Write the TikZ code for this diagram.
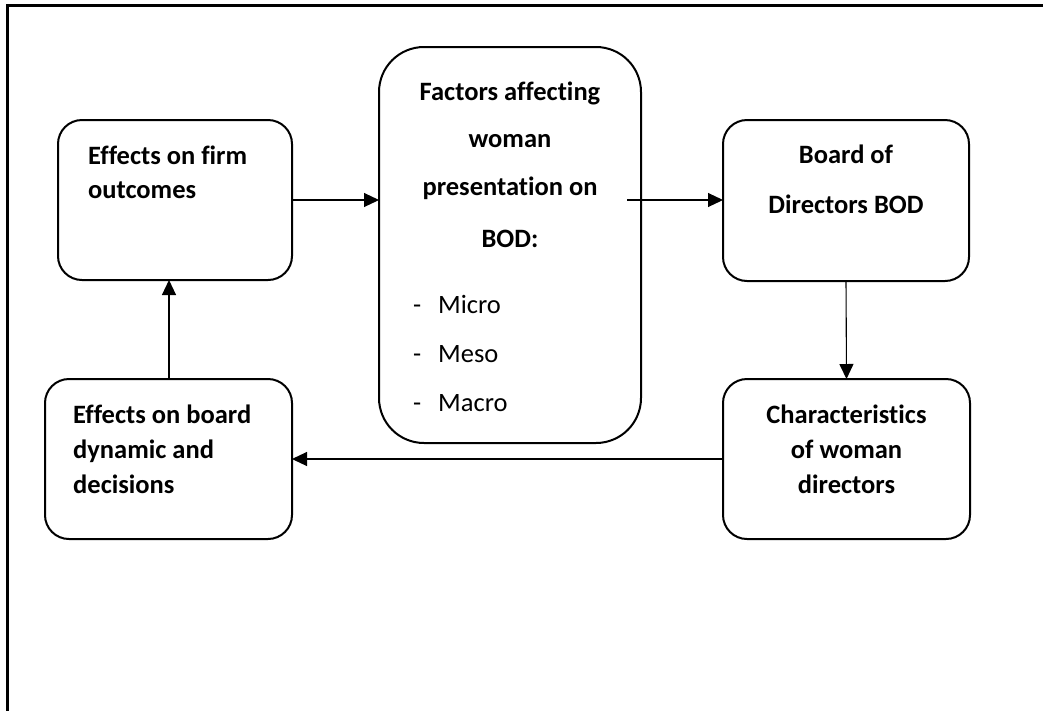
\documentclass[tikz,border=0pt]{standalone}
\usepackage{fontspec}
\setmainfont[Ligatures=CommonOff]{Carlito}
\usetikzlibrary{arrows.meta}
\begin{document}
\begin{tikzpicture}[x=1pt,y=-1pt,
  box/.style={draw, line width=2pt, rounded corners=#1, inner sep=0pt, outer sep=0pt},
  box/.default=24pt,
  lbl/.style={inner sep=0pt, font=\fontsize{26.5}{32}\selectfont\bfseries},
  item/.style={inner sep=0pt, font=\fontsize{26.5}{32}\selectfont},
  link/.style={line width=1.1pt, -{Triangle[length=15pt,width=14pt]}}]
\useasboundingbox (0,0) rectangle (1043,710);
\clip (0,0) rectangle (1043,710);
% page frame
\draw[line width=3pt] (7,720) -- (7,5) -- (1060,5);

% boxes
\node[box, minimum width=234pt, minimum height=160pt] (firm) at (175,200) {};
\node[box=45pt, minimum width=262pt, minimum height=396pt] (factors) at (510,245) {};
\node[box, minimum width=246pt, minimum height=161pt] (bod) at (846,200.5) {};
\node[box, minimum width=247pt, minimum height=160pt] (chars) at (846.5,459) {};
\node[box, minimum width=247pt, minimum height=160pt] (board) at (168.5,459) {};

% texts
\node[lbl, anchor=base west] (firm1) at (88,164) {Effects on firm};
\node[lbl, anchor=base west] (firm2) at (88,198) {outcomes};

\node[lbl, anchor=base] (fac1) at (510,100) {Factors affecting};
\node[lbl, anchor=base] (fac2) at (510,147.5) {woman};
\node[lbl, anchor=base] (fac3) at (510,195.5) {presentation on};
\node[lbl, anchor=base] (fac4) at (510,247) {BOD:};
\node[item, anchor=base west] (d1) at (413,313) {-};
\node[item, anchor=base west] (m1) at (438,313) {Micro};
\node[item, anchor=base west] (d2) at (413,362) {-};
\node[item, anchor=base west] (m2) at (438,362) {Meso};
\node[item, anchor=base west] (d3) at (413,411) {-};
\node[item, anchor=base west] (m3) at (438,411) {Macro};

\node[lbl, anchor=base] (bod1) at (846,163) {Board of};
\node[lbl, anchor=base] (bod2) at (846,213) {Directors BOD};

\node[lbl, anchor=base] (ch1) at (846.5,423) {Characteristics};
\node[lbl, anchor=base] (ch2) at (846.5,458) {of woman};
\node[lbl, anchor=base] (ch3) at (846.5,493) {directors};

\node[lbl, anchor=base west] (bd1) at (73,423) {Effects on board};
\node[lbl, anchor=base west] (bd2) at (73,458) {dynamic and};
\node[lbl, anchor=base west] (bd3) at (73,493) {decisions};

% connectors
\coordinate (facout) at (627,200);
\draw[link] (firm.east |- 0,200) -- (factors.west |- 0,200);
\draw[link] (facout) -- (bod.west |- facout);
\draw[link] (bod.south) -- (chars.north);
\draw[link] (chars.west) -- (board.east);
\draw[link] (board.north -| 169,0) -- (firm.south -| 169,0);
\end{tikzpicture}
\end{document}
